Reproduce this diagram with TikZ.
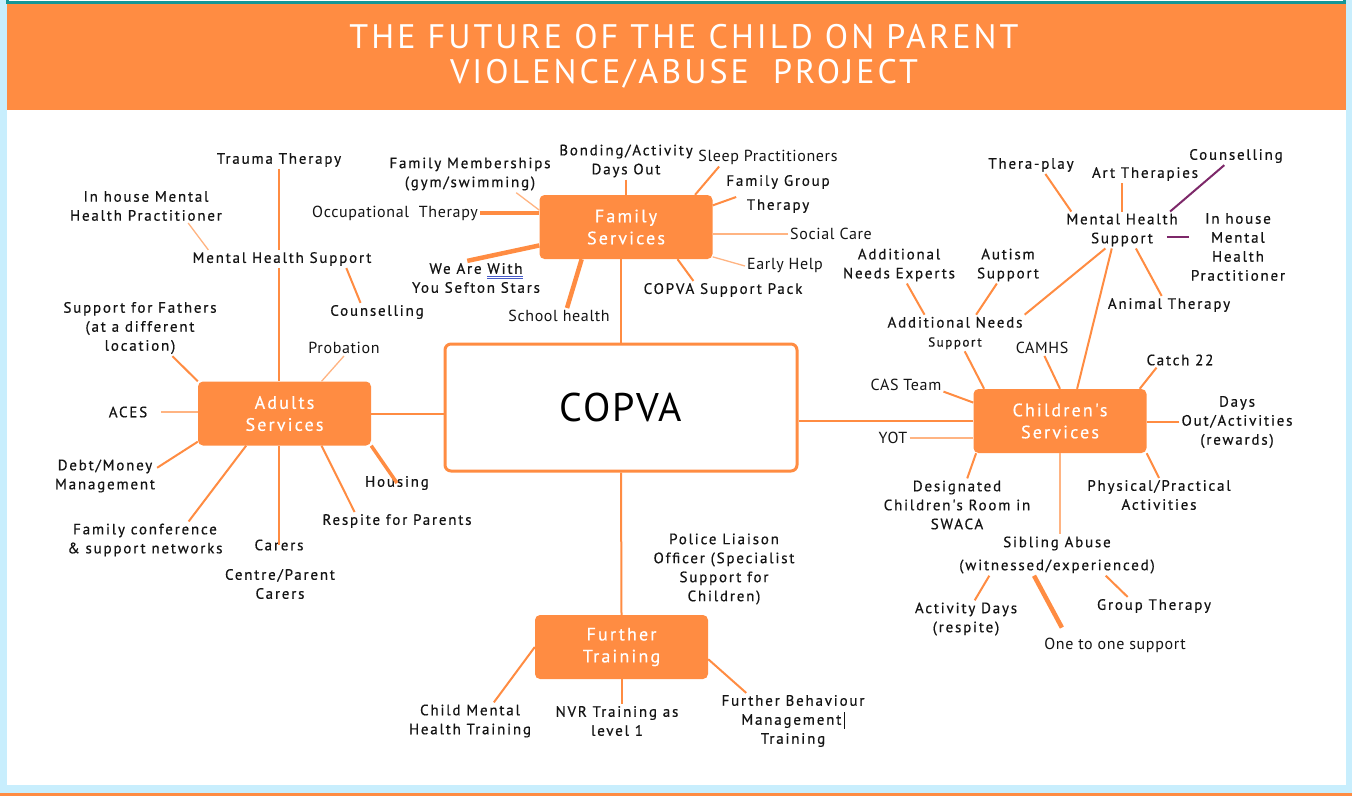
\documentclass[tikz,border=0pt]{standalone}
\usepackage{fontspec}
\setmainfont{PT Sans}
\newfontfamily\spaced[LetterSpace=12,FakeBold=0.5]{PT Sans}
\newfontfamily\roomy[LetterSpace=4]{PT Sans}
\newfontfamily\headfont[LetterSpace=9]{PT Sans}

\definecolor{copvaorange}{RGB}{255,140,66}
\definecolor{paleorange}{RGB}{255,180,130}
\definecolor{pageblue}{RGB}{200,238,253}
\definecolor{edgeteal}{RGB}{20,150,150}
\definecolor{plum}{RGB}{125,40,105}
\definecolor{inkgrey}{RGB}{20,20,20}
\definecolor{ulblue}{RGB}{70,90,200}

\newsavebox{\ulbox}
\newcommand{\blueul}[1]{\sbox\ulbox{#1}\rlap{\color{ulblue}\rule[-2.6pt]{\wd\ulbox}{0.6pt}}\rlap{\color{ulblue}\rule[-4.4pt]{\wd\ulbox}{0.6pt}}\usebox\ulbox}

\begin{document}
\begin{tikzpicture}[x=1pt,y=-1pt]
  \tikzset{
    leaf/.style={font=\spaced\fontsize{15}{19}\selectfont, text=inkgrey, align=center, inner sep=2pt},
    tight/.style={font=\roomy\fontsize{16}{19}\selectfont, text=inkgrey, align=center, inner sep=2pt},
    hub/.style={fill=copvaorange, rounded corners=5pt, minimum width=173pt, minimum height=64pt,
      text=white, align=center, font=\spaced\fontsize{18}{22}\selectfont, inner sep=0pt},
    link/.style={draw=copvaorange, line width=2pt},
    fat/.style={draw=copvaorange, line width=4.5pt},
    faint/.style={draw=paleorange, line width=1.3pt},
    purp/.style={draw=plum, line width=2pt}
  }
  \fill[pageblue] (0,0) rectangle (1352,796);
  \fill[white] (7,0) rectangle (1346,785);
  \fill[copvaorange] (7,4) rectangle (1346,110);
  \fill[edgeteal] (6,0) rectangle (1346,4);
  \fill[white] (9,0) rectangle (1343,1.2);
  \fill[copvaorange] (0,793) rectangle (1352,796);
  \useasboundingbox (0,0) rectangle (1352,796);

  \node[font=\headfont\fontsize{34}{35}\selectfont, text=white, align=center] (title) at (684,56)
    {THE FUTURE OF THE CHILD ON PARENT\\VIOLENCE/ABUSE\ \ PROJECT};

  \node[draw=copvaorange, line width=3pt, fill=white, rounded corners=6pt, minimum width=352pt,
    minimum height=127pt, font=\roomy\fontsize{40}{40}\selectfont, text=black] (copva) at (621,407.5) {COPVA};
  \node[hub] (fam) at (626,227) {Family\\Services};
  \node[hub] (ads) at (284.5,413.5) {Adults\\Services};
  \node[hub] (chs) at (1060,421) {Children's\\Services};
  \node[hub] (trn) at (621.5,647) {Further\\Training};

  \node[leaf] (tt) at (279,160) {Trauma Therapy};
  \node[leaf] (inhA) at (146,206) {In house Mental\\Health Practitioner};
  \node[leaf] (mhsA) at (282,259) {Mental Health Support};
  \node[leaf] (cnsA) at (377,312) {Counselling};
  \node[leaf] (sff) at (140,328) {Support for Fathers\\(at a different\\location)};
  \node[tight] (prob) at (344,348) {Probation};
  \node[leaf] (aces) at (128,412) {ACES};
  \node[leaf] (debt) at (105,476) {Debt/Money\\Management};
  \node[leaf] (fconf) at (145,540) {Family conference\\\& support networks};
  \node[leaf] (carers) at (279,545) {Carers};
  \node[leaf] (cpc) at (280,584) {Centre/Parent\\Carers};
  \node[leaf] (resp) at (397,521) {Respite for Parents};
  \node[leaf] (housing) at (397,483) {Housing};

  \node[leaf] (bond) at (626,161) {Bonding/Activity\\Days Out};
  \node[leaf] (fmem) at (470,174) {Family Memberships\\(gym/swimming)};
  \node[tight] (occ) at (395,213) {Occupational\ \ Therapy};
  \node[leaf] (wawy) at (476,278) {We Are \blueul{With}\\You Sefton Stars};
  \node[tight] (sch) at (559,316) {School health};
  \node[tight] (slp) at (768,157) {Sleep Practitioners};
  \node[leaf] (fgt) at (778,194) {Family Group\\[5pt]Therapy};
  \node[tight] (soc) at (831,234) {Social Care};
  \node[tight] (eh) at (785,266) {Early Help};
  \node[leaf] (csp) at (723,290) {COPVA Support Pack};

  \node[leaf] (mhsC) at (1122,230) {Mental Health\\Support};
  \node[leaf] (thp) at (1031,165) {Thera-play};
  \node[leaf] (art) at (1145,174) {Art Therapies};
  \node[leaf] (cnsC) at (1236,156) {Counselling};
  \node[leaf] (inhC) at (1238,247) {In house\\Mental\\Health\\Practitioner};
  \node[leaf] (anim) at (1169,305) {Animal Therapy};
  \node[leaf] (ane) at (899,265) {Additional\\Needs Experts};
  \node[leaf] (aut) at (1008,265) {Autism\\Support};
  \node[leaf] (ans) at (955,333) {Additional Needs\\{\fontsize{13}{17}\selectfont Support}};
  \node[tight] (camhs) at (1042,348) {CAMHS};
  \node[tight] (cas) at (906,385) {CAS Team};
  \node[tight] (yot) at (893,438) {YOT};
  \node[leaf] (c22) at (1180,360) {Catch 22};
  \node[leaf] (days) at (1237,422) {Days\\Out/Activities\\(rewards)};
  \node[leaf] (phys) at (1159,495) {Physical/Practical\\Activities};
  \node[leaf] (dcr) at (957,505) {Designated\\Children's Room in\\SWACA};
  \node[leaf] (sib) at (1057,555) {Sibling Abuse\\[4pt](witnessed/experienced)};
  \node[leaf] (actd) at (966,619) {Activity Days\\(respite)};
  \node[tight] (oto) at (1115,645) {One to one support};
  \node[leaf] (grp) at (1154,606) {Group Therapy};

  \node[leaf] (pol) at (724,569) {Police Liaison\\Officer (Specialist\\Support for\\Children)};
  \node[leaf] (cmh) at (470,721) {Child Mental\\Health Training};
  \node[leaf] (nvr) at (617,721) {NVR Training as\\level 1};
  \node[leaf] (fbm) at (793,721) {Further Behaviour\\Management\,\rule[-4pt]{0.8pt}{17pt}\\Training};

  \coordinate (mhsC-r) at ([xshift=-13pt,yshift=-7pt]mhsC.east);

  \draw[link] (tt.south) -- (tt.south |- mhsA.north);
  \draw[link] (tt.south |- mhsA.south) -- (tt.south |- ads.north);
  \draw[faint] (inhA.-22) -- (mhsA.173);
  \draw[link] (mhsA.-8) -- (cnsA.151);
  \draw[link] (sff.-41) -- (ads.north west);
  \draw[faint] (prob.south) -- (ads.41);
  \draw[faint, shorten <=12pt] (aces.east) -- (aces.east -| ads.west);
  \draw[link] (debt.9) -- (ads.198);
  \draw[link] (fconf.23) -- (ads.220);
  \draw[link] (carers.center) -- (carers.center |- ads.south);
  \draw[link] (resp.168) -- (ads.-41);
  \draw[link, line width=3.5pt] (ads.south east) -- (housing.center);
  \draw[link] (ads.east) -- (ads.east -| copva.west);

  \draw[link] (bond.south) -- (fam.north);
  \draw[faint] (fmem.-22) -- (fam.169);
  \draw[fat] (occ.east) -- (occ.east -| fam.west);
  \draw[fat] (wawy.117) -- (fam.192);
  \draw[fat] (sch.45) -- (fam.216);
  \draw[link] (slp.191) -- (fam.25);
  \draw[link] (fam.14) -- ([xshift=12pt,yshift=-3pt]fgt.west);
  \draw[faint] (soc.west) -- (soc.west -| fam.east);
  \draw[faint] (fam.-19) -- (eh.west);
  \draw[link] (fam.-32) -- (csp.163);
  \draw[link] (copva.north) -- (copva.north |- fam.south);

  \draw[link] (chs.west) -- (chs.west -| copva.east);
  \draw[link] (mhsC.241) -- (chs.62);
  \draw[link] (mhsC.228) -- (ans.north east);
  \draw[link] (thp.-32) -- (mhsC.160);
  \draw[link] (art.south -| mhsC.north) -- (mhsC.north);
  \draw[purp] (cnsC.218) -- (mhsC.21);
  \draw[purp] (mhsC-r) -- (mhsC-r -| inhC.west);
  \draw[link] (anim.129) -- (mhsC.-53);
  \draw[link] (ane.-67) -- (ans.149);
  \draw[link] (aut.239) -- (ans.41);
  \draw[link] (ans.-62) -- (chs.157);
  \draw[link] (camhs.-73) -- (chs.north);
  \draw[link] (cas.-10) -- (chs.168);
  \draw[faint] (yot.east) -- (yot.east -| chs.west);
  \draw[link] (c22.198) -- (chs.22);
  \draw[link] (days.west) -- (days.west -| chs.east);
  \draw[link] (chs.south east) -- (phys.north);
  \draw[link] (dcr.69) -- (chs.201);
  \draw[faint] (chs.south) -- (chs.south |- sib.north);
  \draw[link] (actd.65) -- (sib.197);
  \draw[fat, shorten >=9pt] (sib.222) -- (oto.169);
  \draw[link] (sib.-23) -- (grp.161);

  \draw[link] (copva.south) -- (trn.north);
  \draw[link] (cmh.38) -- (trn.west);
  \draw[link] (trn.south) -- (trn.south |- nvr.north);
  \draw[link] (trn.-8) -- (fbm.149);
\end{tikzpicture}
\end{document}
